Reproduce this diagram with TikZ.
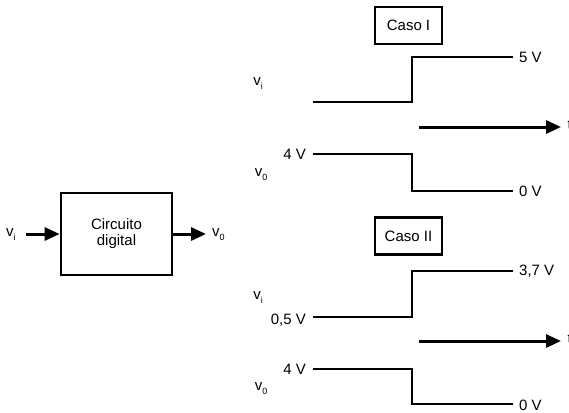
\documentclass[tikz,border=0pt]{standalone}
\usepackage{fontspec}
\setmainfont{Liberation Sans}
\usetikzlibrary{arrows.meta}
\newcommand{\vsig}[1]{v{\fontsize{9}{10}\selectfont\raisebox{-4pt}{#1}}}
\begin{document}
\begin{tikzpicture}[x=1pt,y=-1pt,
  lbl/.style={inner sep=0pt,font=\fontsize{15}{17}\selectfont},
  wave/.style={line width=2.8pt},
  arr/.style={line width=3pt,-{Triangle[length=15pt,width=13pt]}},
  casebox/.style={draw,line width=2.6pt,minimum width=67pt,minimum height=37pt,inner sep=0pt,font=\fontsize{15}{17}\selectfont},
  blockbox/.style={draw,line width=2.8pt,minimum width=111pt,minimum height=82pt,inner sep=0pt,align=center,font=\fontsize{15}{17}\selectfont}]
\useasboundingbox (0,0) rectangle (569,412);
% block
\node[blockbox] (blk) at (116.5,234) {Circuito\\[-1pt]digital};
\node[lbl,anchor=west] (vin) at (6,235) {\vsig{i}};
\node[lbl,anchor=west] (vout) at (212,235) {\vsig{0}};
\draw[arr] (26,234) -- (blk.west);
\draw[arr] (blk.east) -- (206,234);
% Case I
\node[casebox] (c1) at (408.5,25.5) {Caso I};
\node[lbl] (vi1) at (258,84) {\vsig{i}};
\coordinate (a1) at (313,102);
\coordinate (b1) at (513,57);
\draw[wave] (a1) -- (412,102) -- (412,57) -- (b1);
\node[lbl,anchor=west] (l5) at (519,57) {5 V};
\coordinate (t1s) at (419,127);
\coordinate (t1e) at (561,127);
\node[lbl,anchor=west] (t1) at (567.5,125) {t};
\draw[arr] (t1s) -- (t1e);
\node[lbl] (vo1) at (261,175) {\vsig{0}};
\node[lbl,anchor=east] (l4a) at (306,154) {4 V};
\coordinate (c1s) at (313,154);
\coordinate (d1) at (513,191);
\draw[wave] (c1s) -- (412,154) -- (412,191) -- (d1);
\node[lbl,anchor=west] (l0a) at (519,191) {0 V};
% Case II
\node[casebox] (c2) at (408.5,236) {Caso II};
\node[lbl] (vi2) at (258,298) {\vsig{i}};
\node[lbl,anchor=east] (l05) at (306,320) {0,5 V};
\coordinate (a2) at (313,317);
\coordinate (b2) at (513,271);
\draw[wave] (a2) -- (412,317) -- (412,271) -- (b2);
\node[lbl,anchor=west] (l37) at (519,271) {3,7 V};
\coordinate (t2s) at (419,341);
\coordinate (t2e) at (561,341);
\node[lbl,anchor=west] (t2) at (567.5,339) {t};
\draw[arr] (t2s) -- (t2e);
\node[lbl] (vo2) at (261,389) {\vsig{0}};
\node[lbl,anchor=east] (l4b) at (306,369) {4 V};
\coordinate (c2s) at (313,369);
\coordinate (d2) at (513,404);
\draw[wave] (c2s) -- (412,369) -- (412,404) -- (d2);
\node[lbl,anchor=west] (l0b) at (519,405) {0 V};
\end{tikzpicture}
\end{document}
